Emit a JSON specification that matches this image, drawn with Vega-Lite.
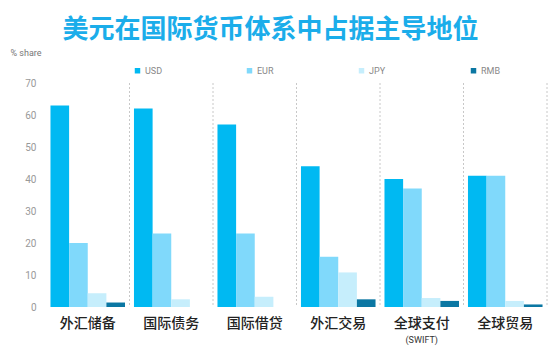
{
  "$schema": "https://vega.github.io/schema/vega-lite/v6.json",
  "width": 501,
  "height": 224,
  "autosize": {"type": "none"},
  "padding": {"left": 46, "top": 83, "right": 6, "bottom": 44},
  "background": "white",
  "title": {
    "text": "美元在国际货币体系中占据主导地位",
    "font": "Noto Sans CJK SC",
    "fontSize": 26,
    "fontWeight": "bold",
    "color": "#1BADEA",
    "anchor": "middle",
    "frame": "group",
    "dx": -26,
    "offset": 5
  },
  "config": {
    "view": {"stroke": null},
    "axis": {"grid": false, "ticks": false, "domain": false}
  },
  "datasets": {
    "bars": [
      {"category": "外汇储备", "currency": "USD", "value": 63},
      {"category": "外汇储备", "currency": "EUR", "value": 20},
      {"category": "外汇储备", "currency": "JPY", "value": 4.3},
      {"category": "外汇储备", "currency": "RMB", "value": 1.4},
      {"category": "国际债务", "currency": "USD", "value": 62},
      {"category": "国际债务", "currency": "EUR", "value": 23},
      {"category": "国际债务", "currency": "JPY", "value": 2.4},
      {"category": "国际借贷", "currency": "USD", "value": 57},
      {"category": "国际借贷", "currency": "EUR", "value": 23},
      {"category": "国际借贷", "currency": "JPY", "value": 3.2},
      {"category": "外汇交易", "currency": "USD", "value": 44},
      {"category": "外汇交易", "currency": "EUR", "value": 15.7},
      {"category": "外汇交易", "currency": "JPY", "value": 10.8},
      {"category": "外汇交易", "currency": "RMB", "value": 2.4},
      {"category": "全球支付", "currency": "USD", "value": 40},
      {"category": "全球支付", "currency": "EUR", "value": 37},
      {"category": "全球支付", "currency": "JPY", "value": 2.8},
      {"category": "全球支付", "currency": "RMB", "value": 1.9},
      {"category": "全球贸易", "currency": "USD", "value": 41},
      {"category": "全球贸易", "currency": "EUR", "value": 41},
      {"category": "全球贸易", "currency": "JPY", "value": 1.9},
      {"category": "全球贸易", "currency": "RMB", "value": 0.8}
    ],
    "groups": [
      {"category": "外汇储备"},
      {"category": "国际债务"},
      {"category": "国际借贷"},
      {"category": "外汇交易"},
      {"category": "全球支付"},
      {"category": "全球贸易"}
    ]
  },
  "layer": [
    {
      "data": {"name": "bars"},
      "mark": {"type": "bar"},
      "encoding": {
        "x": {
          "field": "category",
          "type": "nominal",
          "sort": null,
          "scale": {"paddingInner": 0, "paddingOuter": 0},
          "axis": {
            "orient": "bottom",
            "title": null,
            "labelAngle": 0,
            "labelFont": "Noto Sans CJK SC",
            "labelFontSize": 14,
            "labelFontWeight": 500,
            "labelColor": "#222222",
            "labelPadding": 9
          }
        },
        "xOffset": {
          "field": "currency",
          "type": "nominal",
          "sort": ["USD", "EUR", "JPY", "RMB"],
          "scale": {"paddingInner": 0, "paddingOuter": 0.24}
        },
        "y": {
          "field": "value",
          "type": "quantitative",
          "scale": {"domain": [0, 70]},
          "axis": {
            "values": [0, 10, 20, 30, 40, 50, 60, 70],
            "title": "% share",
            "titleAngle": 0,
            "titleX": -36,
            "titleY": -31,
            "titleAlign": "left",
            "titleBaseline": "middle",
            "titleFont": "Roboto",
            "titleFontSize": 9,
            "titleFontWeight": "normal",
            "titleColor": "#777777",
            "labelFont": "Roboto",
            "labelFontSize": 10,
            "labelColor": "#999999",
            "labelPadding": 10
          }
        },
        "color": {
          "field": "currency",
          "type": "nominal",
          "sort": ["USD", "EUR", "JPY", "RMB"],
          "scale": {
            "domain": ["USD", "EUR", "JPY", "RMB"],
            "range": ["#00B9F2", "#80D9FB", "#C6EEFC", "#0B77A3"]
          },
          "legend": {
            "title": null,
            "orient": "none",
            "direction": "horizontal",
            "legendX": 87,
            "legendY": -17,
            "symbolType": "square",
            "symbolSize": 30,
            "symbolStrokeWidth": 0,
            "labelFont": "Roboto",
            "labelFontSize": 9,
            "labelColor": "#888888",
            "labelOffset": 3,
            "gridAlign": "all",
            "columnPadding": 80
          }
        }
      }
    },
    {
      "data": {"name": "groups"},
      "mark": {"type": "rule", "color": "#C8C8C8", "strokeDash": [2, 2], "strokeWidth": 1},
      "encoding": {
        "x": {
          "field": "category",
          "type": "nominal",
          "sort": null,
          "bandPosition": 1,
          "axis": {
            "orient": "bottom",
            "title": null,
            "labelAngle": 0,
            "labelExpr": "datum.value == '全球支付' ? '(SWIFT)' : ''",
            "labelFont": "Roboto",
            "labelFontSize": 9,
            "labelColor": "#333333",
            "labelPadding": 28
          }
        }
      }
    }
  ],
  "resolve": {"axis": {"x": "independent"}}
}
